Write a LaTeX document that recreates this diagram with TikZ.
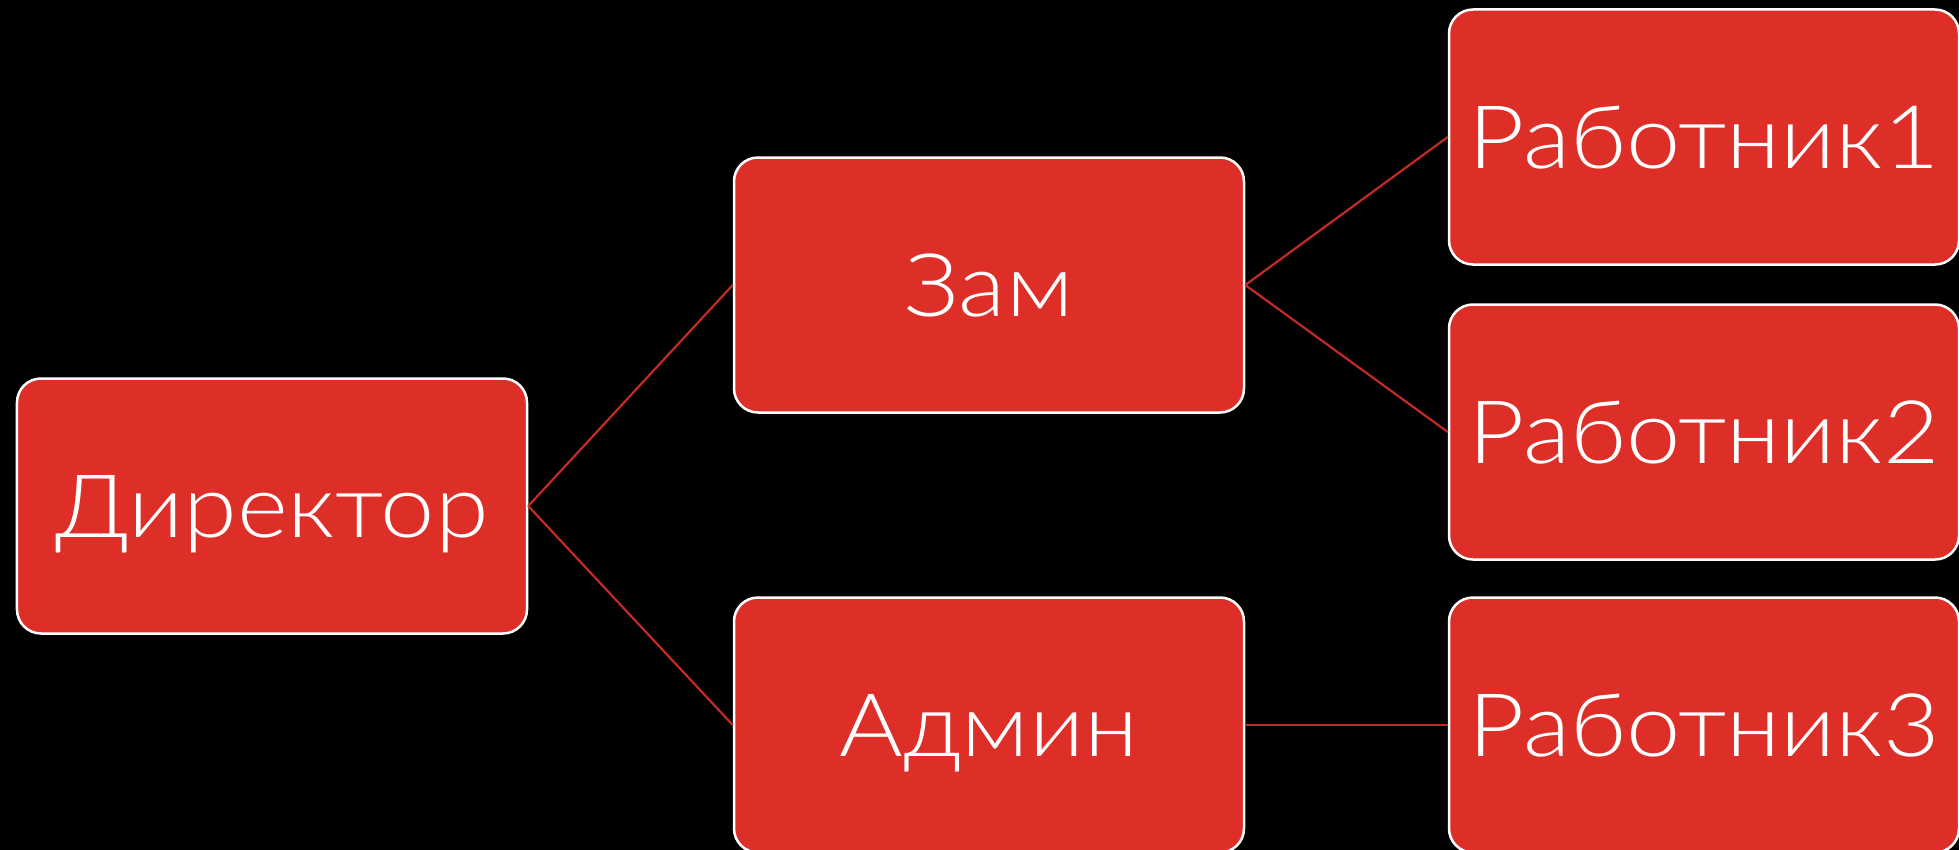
\documentclass[tikz,border=0pt]{standalone}
\usepackage{fontspec}
\setmainfont{Lato Light}[FakeStretch=1.11]
\definecolor{boxred}{HTML}{DE2E28}
\definecolor{linered}{HTML}{C42A26}
\begin{document}
\begin{tikzpicture}[x=1bp,y=-1bp,
  orgbox/.style={draw=white, line width=2.5bp, fill=boxred, rounded corners=24bp,
    minimum width=510bp, minimum height=255bp, text=white, inner sep=0pt,
    font=\fontsize{88}{100}\selectfont, text height=63bp, text depth=0pt},
  link/.style={draw=linered, line width=2.2bp}]
\fill[black] (0,0) rectangle (1959,850);
\useasboundingbox (0,0) rectangle (1959,850);
\node[orgbox] (dir) at (272,506) {Директор};
\node[orgbox] (zam) at (989,285) {Зам};
\node[orgbox] (adm) at (989,725) {Админ};
\node[orgbox] (r1) at (1704,137) {Работник1};
\node[orgbox] (r2) at (1704,432) {Работник2};
\node[orgbox] (r3) at (1704,725) {Работник3};
\draw[link] (dir.east) -- (zam.west);
\draw[link] (dir.east) -- (adm.west);
\draw[link] (zam.east) -- (r1.west);
\draw[link] (zam.east) -- (r2.west);
\draw[link] (adm.east) -- (r3.west);
\end{tikzpicture}
\end{document}
